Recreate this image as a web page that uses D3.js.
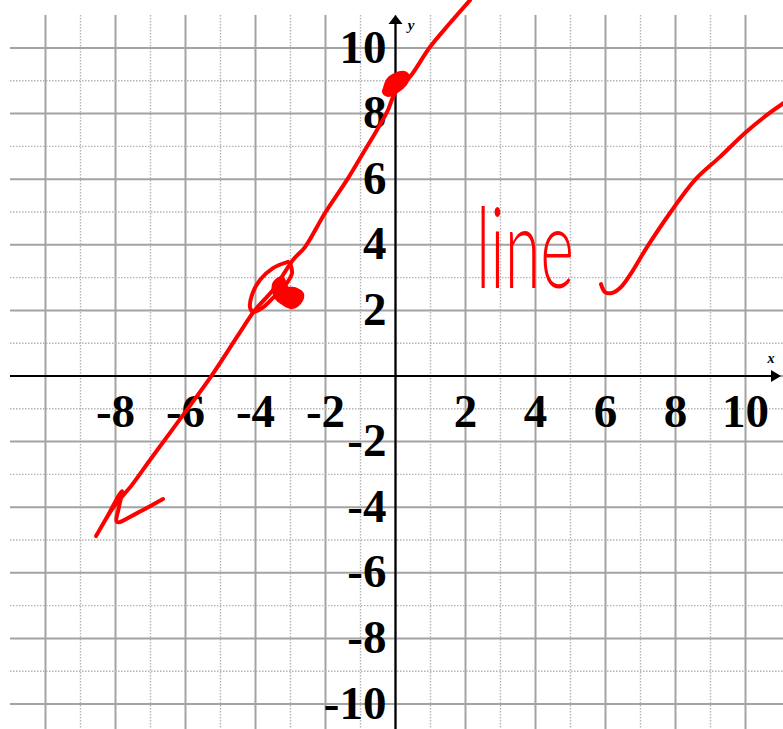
<!DOCTYPE html>
<html>
<head>
<meta charset="utf-8">
<script src="https://cdn.jsdelivr.net/npm/d3@7"></script>
<style>
  html, body { margin: 0; padding: 0; background: #fff; }
  svg { display: block; }
</style>
</head>
<body>
<svg id="chart" width="783" height="729"></svg>
<script>
// Coordinate grid values
const gridValues = d3.range(-10, 11);
const xTickLabels = [-8, -6, -4, -2, 2, 4, 6, 8, 10];
const yTickLabels = [10, 8, 6, 4, 2, -2, -4, -6, -8, -10];

// Hand-drawn line through the plane, ending in a small flourish at the bottom
const inkLine = [
  [2.13, 11.46], [1.557, 10.76], [0.986, 10.03], [0.414, 9.12], [-0.014, 8.63],
  [-0.214, 8.11], [-0.529, 7.50], [-0.957, 6.74], [-1.386, 5.98], [-2.014, 4.97],
  [-2.586, 3.93], [-2.929, 3.54], [-3.5, 2.62], [-4.014, 2.01], [-4.529, 1.19],
  [-5.243, 0.03], [-6.386, -1.65], [-7.014, -2.56], [-7.529, -3.32], [-8.071, -4.02],
  [-8.557, -4.88], [-8.243, -4.30], [-7.814, -3.51], [-7.9, -3.99], [-7.957, -4.45],
  [-7.386, -4.18], [-6.643, -3.75]
];

// Dot marking the y-intercept
const interceptDot = [
  [-0.30, 8.78], [-0.214, 9.02], [-0.014, 9.18], [0.243, 9.24], [0.357, 9.12],
  [0.271, 8.90], [0.043, 8.69], [-0.214, 8.57], [-0.329, 8.66]
];

// Circle drawn around the point near (-3, 2.5)
const pointCircle = [
  [-3.071, 3.48], [-3.5, 3.29], [-3.871, 2.93], [-4.1, 2.47], [-4.157, 2.10],
  [-4.071, 1.95], [-3.814, 2.07], [-3.5, 2.38], [-3.1, 2.84], [-2.957, 3.14],
  [-3.014, 3.45]
];
const pointBlob = [
  [-3.471, 2.80], [-3.243, 2.99], [-3.1, 2.68], [-2.871, 2.65], [-2.671, 2.50],
  [-2.729, 2.26], [-2.957, 2.10], [-3.186, 2.20], [-3.414, 2.41]
];

// Check mark after the note
const checkMark = [
  [5.871, 2.80], [5.986, 2.56], [6.186, 2.53], [6.414, 2.68], [6.7, 3.08],
  [7.186, 3.93], [7.843, 4.97], [8.557, 5.98], [9.271, 6.68], [9.986, 7.41],
  [10.614, 7.96], [11.13, 8.35]
];

// Handwritten note
const noteText = "line";
const noteAnchor = [2.3, 2.68];

const W = 783, H = 729;
const svg = d3.select("#chart");

const x = d3.scaleLinear().domain([-10, 10]).range([45.5, 745.5]);
const y = d3.scaleLinear().domain([-10, 10]).range([704, 48]);

const gridLeft = 10, gridRight = W, gridTop = 15, gridBottom = H;

// Grid: solid on even units, dotted on odd units
const grid = svg.append("g");
grid.selectAll("line.v").data(gridValues).join("line")
  .attr("x1", d => x(d)).attr("x2", d => x(d))
  .attr("y1", gridTop).attr("y2", gridBottom)
  .attr("stroke", d => d % 2 === 0 ? "#a3a3a3" : "#b4b4b4")
  .attr("stroke-width", d => d % 2 === 0 ? 2 : 1.4)
  .attr("stroke-dasharray", d => d % 2 === 0 ? null : "1.5,1.5");
grid.selectAll("line.h").data(d3.range(-11, 11)).join("line")
  .attr("y1", d => y(d)).attr("y2", d => y(d))
  .attr("x1", gridLeft).attr("x2", gridRight)
  .attr("stroke", d => d % 2 === 0 ? "#a3a3a3" : "#b4b4b4")
  .attr("stroke-width", d => d % 2 === 0 ? 2 : 1.4)
  .attr("stroke-dasharray", d => d % 2 === 0 ? null : "1.5,1.5");

// Axes with arrowheads
const axes = svg.append("g");
axes.append("line")
  .attr("x1", gridLeft).attr("x2", W - 6)
  .attr("y1", y(0)).attr("y2", y(0))
  .attr("stroke", "#000").attr("stroke-width", 2.2);
axes.append("path")
  .attr("d", `M${W - 2},${y(0)} L${W - 12},${y(0) - 6} L${W - 12},${y(0) + 6} Z`)
  .attr("fill", "#000");
axes.append("line")
  .attr("x1", x(0)).attr("x2", x(0))
  .attr("y1", gridBottom).attr("y2", gridTop + 5)
  .attr("stroke", "#000").attr("stroke-width", 2.2);
axes.append("path")
  .attr("d", `M${x(0)},${gridTop} L${x(0) - 7},${gridTop + 9} L${x(0) + 7},${gridTop + 9} Z`)
  .attr("fill", "#000");

axes.append("text").text("x")
  .attr("x", 771).attr("y", 363)
  .attr("text-anchor", "middle")
  .attr("font-family", "'Liberation Serif', 'Times New Roman', serif")
  .attr("font-weight", "bold").attr("font-style", "italic")
  .attr("font-size", 14);
axes.append("text").text("y")
  .attr("x", 411).attr("y", 30)
  .attr("text-anchor", "middle")
  .attr("font-family", "'Liberation Serif', 'Times New Roman', serif")
  .attr("font-weight", "bold").attr("font-style", "italic")
  .attr("font-size", 15);

// Tick labels
const labelFont = "'Liberation Serif', 'Times New Roman', serif";
const labels = svg.append("g")
  .attr("font-family", labelFont)
  .attr("font-weight", "bold")
  .attr("font-size", 47)
  .attr("fill", "#000");
labels.selectAll("text.xl").data(xTickLabels).join("text")
  .attr("x", d => x(d))
  .attr("y", y(0) + 51)
  .attr("text-anchor", "middle")
  .text(d => d);
labels.selectAll("text.yl").data(yTickLabels).join("text")
  .attr("x", x(0) - 9)
  .attr("y", d => y(d) + 14.5)
  .attr("text-anchor", "end")
  .text(d => d);

// Ink annotations
const ink = svg.append("g")
  .attr("fill", "none")
  .attr("stroke", "#ff0000")
  .attr("stroke-width", 4)
  .attr("stroke-linecap", "round")
  .attr("stroke-linejoin", "round");

const open = d3.line().x(d => x(d[0])).y(d => y(d[1])).curve(d3.curveCatmullRom.alpha(0.5));
const closed = d3.line().x(d => x(d[0])).y(d => y(d[1])).curve(d3.curveCatmullRomClosed.alpha(0.5));

ink.append("path").attr("d", open(inkLine));
ink.append("path").attr("d", open(pointCircle));
ink.append("path").attr("d", closed(pointBlob)).attr("fill", "#ff0000");
ink.append("path").attr("d", closed(interceptDot)).attr("fill", "#ff0000");
ink.append("path").attr("d", open(checkMark));

svg.append("text")
  .text(noteText)
  .attr("x", x(noteAnchor[0]))
  .attr("y", y(noteAnchor[1]))
  .attr("font-family", "Lato, 'Open Sans', sans-serif")
  .attr("font-weight", 300)
  .attr("font-size", 112)
  .attr("textLength", 98)
  .attr("lengthAdjust", "spacingAndGlyphs")
  .attr("fill", "#ff0000");
</script>
</body>
</html>
